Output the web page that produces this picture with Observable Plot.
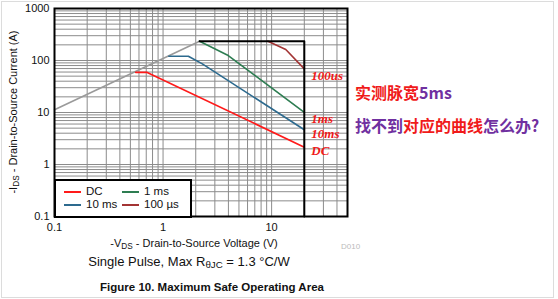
<!DOCTYPE html>
<html>
<head>
<meta charset="utf-8">
<script src="https://cdn.jsdelivr.net/npm/d3@7"></script>
<script src="https://cdn.jsdelivr.net/npm/@observablehq/plot@0.6"></script>
<style>
  body { margin:0; background:#fff; font-family:"Liberation Sans", Arial, Helvetica, sans-serif; }
  #wrap { position:relative; width:558px; height:299px; overflow:hidden; }
  .abs { position:absolute; white-space:nowrap; }
  .cjk { font-family:"Noto Sans CJK SC", sans-serif; font-weight:bold; font-size:16px; line-height:16px; }
  .red { color:#f01a1a; }
  .pur { color:#7030a0; }
  sub { font-size:75%; vertical-align:-0.25em; line-height:0; }
</style>
</head>
<body>
<div id="wrap"></div>
<script>
// ---- data ----
const xTicks = [0.1, 1, 10, 50];
const yTicks = [0.1, 1, 10, 100, 1000];
const xGrid = [0.2,0.3,0.4,0.5,0.6,0.7,0.8,0.9,1,2,3,4,5,6,7,8,9,10,20,30,40];
const yGrid = [0.2,0.3,0.4,0.5,0.6,0.7,0.8,0.9,1,2,3,4,5,6,7,8,9,10,20,30,40,50,60,70,80,90,100,200,300,400,500,600,700,800,900];

const rdsLimit = [[0.1, 11.3], [2.17, 235]];
const boundary = [[2.17, 235], [20, 235], [20, 0.1]];

const seriesNames = ["DC", "10 ms", "1 ms", "100 µs"];
const seriesColors = ["#ff1a1a", "#2d6a8e", "#2e7d52", "#a33434"];
const dcPoints = [[0.56, 59], [0.715, 59], [20, 2.15]];
const ms10Points = [[1.13, 121], [1.71, 121], [2.3, 86], [20, 4.65]];
const ms1Points = [[2.17, 235], [3.9, 128], [20, 10.1]];
const us100Points = [[9.25, 235], [13.5, 163], [20, 69]];

const annoLabels = ["100us", "1ms", "10ms", "DC"];
const annoY = [51.5, 7.7, 3.95, 1.86];

// ---- build table ----
const allPoints = [dcPoints, ms10Points, ms1Points, us100Points];
const table = [];
allPoints.forEach((pts, k) => pts.forEach(([v, i]) => table.push({series: seriesNames[k], v, i})));
const annos = annoLabels.map((t, k) => ({t, v: 20, i: annoY[k]}));

const W = 558, H = 299;
const chart = Plot.plot({
  width: W, height: H,
  marginLeft: 54, marginRight: 211, marginTop: 8, marginBottom: 83,
  style: {fontFamily: '"Liberation Sans", Arial, sans-serif', fontSize: "11px", color: "#111", background: "transparent"},
  x: {type: "log", domain: [0.1, 50], ticks: xTicks, tickFormat: d => String(d), tickSize: 0, tickPadding: 7, label: null},
  y: {type: "log", domain: [0.1, 1000], ticks: yTicks, tickFormat: d => String(d), tickSize: 0, tickPadding: 5, label: null},
  color: {domain: seriesNames, range: seriesColors},
  marks: [
    Plot.ruleX(xGrid, {stroke: "#8c8c8c", strokeWidth: 1}),
    Plot.ruleY(yGrid, {stroke: "#8c8c8c", strokeWidth: 1}),
    Plot.line(rdsLimit, {x: d => d[0], y: d => d[1], stroke: "#9a9a9a", strokeWidth: 1.6}),
    Plot.line(table, {x: "v", y: "i", z: "series", stroke: "series", strokeWidth: 1.6}),
    Plot.line(boundary, {x: d => d[0], y: d => d[1], stroke: "#000", strokeWidth: 2}),
    Plot.frame({stroke: "#000", strokeWidth: 2}),
    Plot.text(annos, {x: "v", y: "i", text: "t", dx: 7, textAnchor: "start", fill: "#f01a1a",
      fontFamily: '"Liberation Serif", "DejaVu Serif", serif', fontStyle: "italic", fontWeight: "bold", fontSize: 13, clip: false})
  ]
});
const wrap = document.getElementById("wrap");
wrap.appendChild(chart);

function add(html, style, cls) {
  const d = document.createElement("div");
  d.className = "abs " + (cls || "");
  d.innerHTML = html;
  Object.assign(d.style, style);
  wrap.appendChild(d);
  return d;
}
// outer light border
add("", {left: "1px", top: "1px", width: "551px", height: "295px", border: "1px solid #dcdcdc"});

// legend
const lg = add("", {left: "54px", top: "179px", width: "134px", height: "35px", background: "#fff", border: "2px solid #000", boxSizing: "content-box"});
const legendPos = [[8, 4], [8, 17], [66, 4], [66, 17]];
seriesNames.forEach((n, k) => {
  const [lx, ly] = legendPos[k];
  const sw = document.createElement("div");
  sw.className = "abs";
  Object.assign(sw.style, {left: lx + "px", top: (ly + 6) + "px", width: "17px", height: "2px", background: seriesColors[k]});
  lg.appendChild(sw);
  const item = document.createElement("div");
  item.className = "abs";
  Object.assign(item.style, {left: (lx + 22) + "px", top: ly + "px", fontSize: "11.5px", lineHeight: "13px", color: "#111"});
  item.textContent = n;
  lg.appendChild(item);
});

// y label
add("-I<sub>DS</sub> - Drain-to-Source Current (A)", {left: "13px", top: "112px", fontSize: "11px", color: "#111", transform: "translate(-50%,-50%) rotate(-90deg)"});
// x label
add("-V<sub>DS</sub> - Drain-to-Source Voltage (V)", {left: "194px", top: "243px", fontSize: "11px", color: "#111", transform: "translate(-50%,-50%)"});
// D010
add("D010", {left: "341px", top: "242px", fontSize: "8px", color: "#bbb"});
// subtitle
add("Single Pulse, Max R<sub>θJC</sub> = 1.3 °C/W", {left: "189px", top: "261px", fontSize: "13px", color: "#111", transform: "translate(-50%,-50%)"});
// title
add("Figure 10. Maximum Safe Operating Area", {left: "212px", top: "287px", fontSize: "11.5px", fontWeight: "bold", color: "#111", transform: "translate(-50%,-50%)"});

// Chinese annotations
add('<span class="red">实测脉宽</span><span class="pur">5ms</span>', {left: "355px", top: "84px"}, "cjk");
add('<span class="pur">找不到</span><span class="red">对应的曲线</span><span class="pur">怎么办?</span>', {left: "355px", top: "117px"}, "cjk");
</script>
</body>
</html>
